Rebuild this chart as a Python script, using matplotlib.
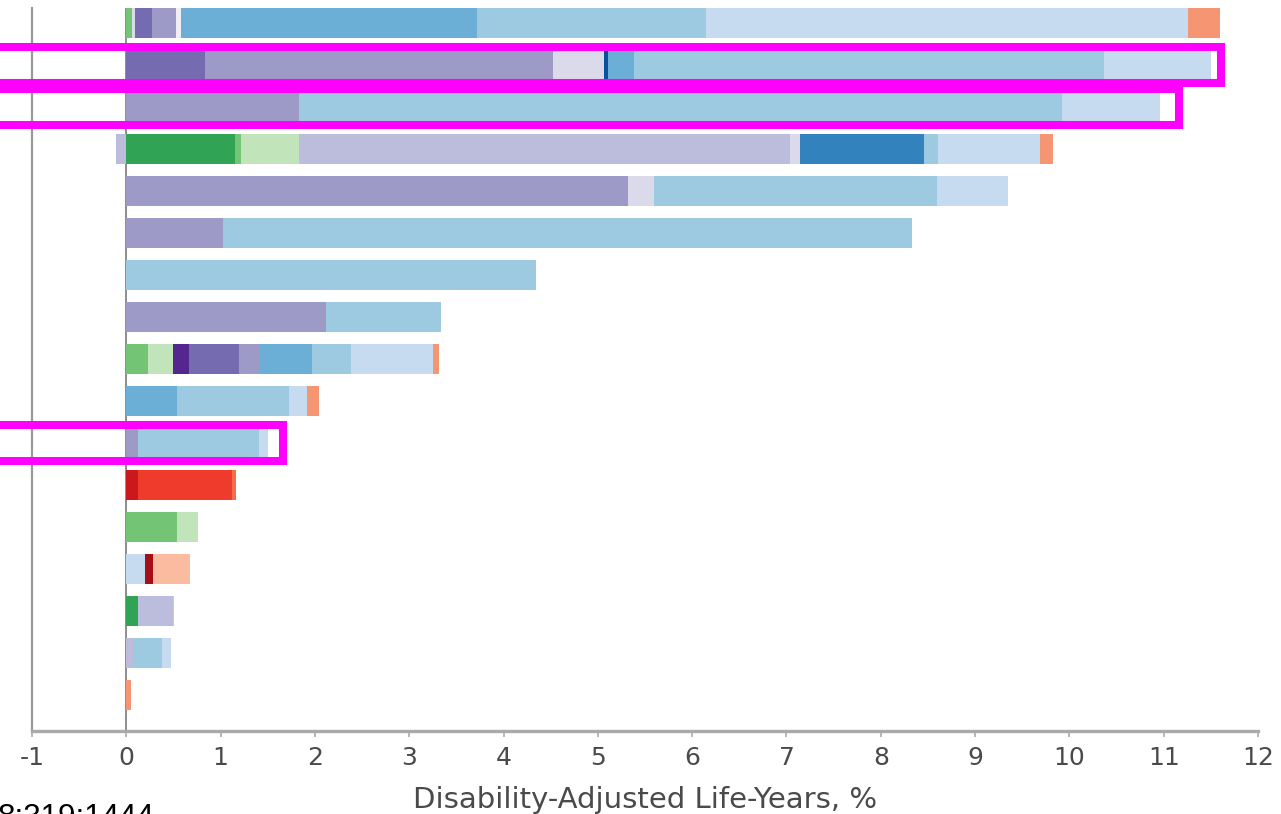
import matplotlib
matplotlib.use("Agg")
import numpy as np
from matplotlib import pyplot as plt
from matplotlib.patches import Rectangle

plt.rcParams["axes.unicode_minus"] = False

# shade keys used by the stacked segments
palette = {
    "G1": "#31a354", "G2": "#74c476", "G3": "#c2e4bb",
    "P0": "#54278f", "P1": "#756bb1", "P2": "#9e9ac8", "P3": "#bcbddc",
    "P4": "#dadaeb", "P5": "#f0eff7",
    "B0": "#08519c", "B1": "#3182bd", "B2": "#6baed6", "B3": "#9ecae1",
    "B4": "#c6dbef",
    "R0": "#a50f15", "R1": "#cb181d", "R2": "#ef3b2c", "R3": "#fb6a4a",
    "O1": "#f59572", "O2": "#fbbba1",
}

# segment widths per bar (top to bottom), % of DALYs
row_values = [
    [0.06, 0.03, 0.18, 0.26, 0.05, 3.14, 2.43, 5.11, 0.34],
    [0.83, 3.69, 0.54, 0.05, 0.27, 4.99, 1.13],
    [1.83, 8.09, 1.04],
    [-0.11, 1.15, 0.07, 0.61, 5.21, 0.10, 1.32, 0.15, 1.08, 0.14],
    [5.32, 0.28, 3.00, 0.75],
    [1.02, 7.31],
    [4.34],
    [2.12, 1.22],
    [0.23, 0.27, 0.17, 0.52, 0.22, 0.56, 0.41, 0.87, 0.07],
    [0.54, 1.19, 0.19, 0.12],
    [0.12, 1.29, 0.09],
    [0.12, 1.00, 0.04],
    [0.54, 0.22],
    [0.20, 0.08, 0.40],
    [0.12, 0.37, 0.02],
    [0.08, 0.30, 0.09],
    [0.05],
]
row_shades = [
    ["G2", "P4", "P1", "P2", "P5", "B2", "B3", "B4", "O1"],
    ["P1", "P2", "P4", "B0", "B2", "B3", "B4"],
    ["P2", "B3", "B4"],
    ["P3", "G1", "G2", "G3", "P3", "P4", "B1", "B3", "B4", "O1"],
    ["P2", "P4", "B3", "B4"],
    ["P2", "B3"],
    ["B3"],
    ["P2", "B3"],
    ["G2", "G3", "P0", "P1", "P2", "B2", "B3", "B4", "O1"],
    ["B2", "B3", "B4", "O1"],
    ["P2", "B3", "B4"],
    ["R1", "R2", "R3"],
    ["G2", "G3"],
    ["B4", "R0", "O2"],
    ["G1", "P3", "O2"],
    ["P3", "B3", "B4"],
    ["O1"],
]
x_ticks = list(range(-1, 13))
x_label = "Disability-Adjusted Life-Years, %"
source_text = "8;319:1444"

# bars that carry a highlight box, with extra room on the right
highlights = {1: 0.11, 2: 0.20, 10: 0.16}

fig = plt.figure(figsize=(12.81, 8.14), dpi=100)
ax = fig.add_axes([32 / 1281, 83 / 814, 1226 / 1281, 723 / 814])

bar_h = 0.72
for i, (vals, shades) in enumerate(zip(row_values, row_shades)):
    pos, neg = 0.0, 0.0
    for v, s in zip(vals, shades):
        if v < 0:
            ax.barh(i, v, left=neg, height=bar_h, color=palette[s], lw=0, zorder=2)
            neg += v
        else:
            ax.barh(i, v, left=pos, height=bar_h, color=palette[s], lw=0, zorder=2)
            pos += v

ax.axvline(0, color="#858585", lw=1.3, zorder=1)

# magenta highlight boxes
for i, pad in highlights.items():
    total = sum(v for v in row_values[i] if v > 0)
    half = 0.44
    box = Rectangle((-3, i - half), total + pad + 3, 2 * half, fill=False,
                    edgecolor="#ff00ff", lw=5.8, clip_on=False, zorder=5)
    ax.add_patch(box)

ax.set_xlim(-1, 12)
ax.set_ylim(len(row_values) - 1 + 0.857, -0.357)
ax.set_yticks([])
ax.set_xticks(x_ticks)
ax.set_xticklabels([str(t) for t in x_ticks], fontsize=18, color="#4a4a4a",
                   family="DejaVu Sans")
ax.tick_params(axis="x", length=4, width=1.2, color="#aaaaaa", pad=7)
ax.set_xlabel(x_label, fontsize=21, color="#4a4a4a", family="DejaVu Sans",
              labelpad=11)

for side in ["top", "right"]:
    ax.spines[side].set_visible(False)
ax.spines["left"].set_color("#999999")
ax.spines["left"].set_linewidth(1.6)
ax.spines["bottom"].set_color("#aaaaaa")
ax.spines["bottom"].set_linewidth(2.4)

# citation line, cut by the bottom edge as in the source crop
fig.text(-2 / 1281, -11.5 / 814, source_text, fontsize=22.6, color="black",
         family="Liberation Sans", va="baseline", ha="left")

fig.savefig("out.png", dpi=100)
